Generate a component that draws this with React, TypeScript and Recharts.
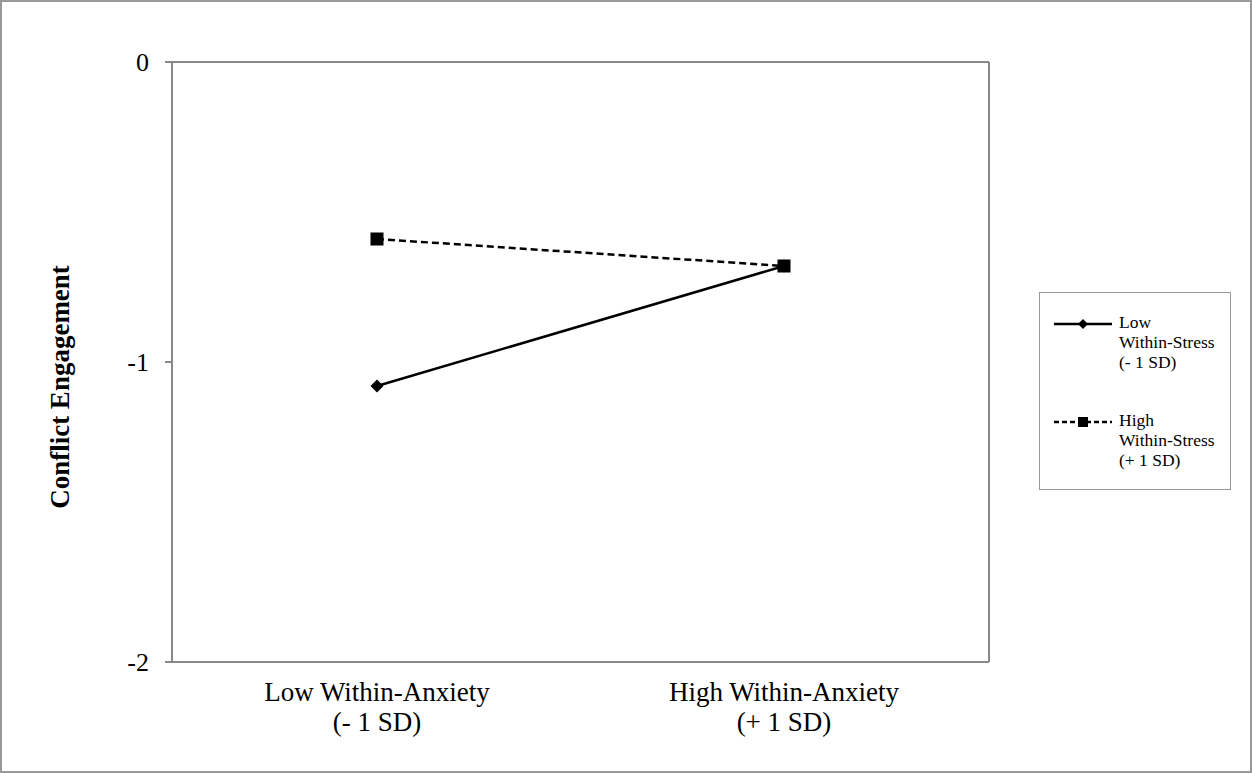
import { LineChart, Line, XAxis, YAxis } from "recharts";

const categories = ["Low Within-Anxiety|(- 1 SD)", "High Within-Anxiety|(+ 1 SD)"];
const lowStress = [-1.08, -0.68];
const highStress = [-0.59, -0.68];
const yTicks = [0, -1, -2];

const data = categories.map((c, i) => ({
    cat: c,
    low: lowStress[i],
    high: highStress[i],
}));

const serif = "'Liberation Serif', 'Times New Roman', serif";
const frame = { stroke: "#888", strokeWidth: 2 };

const Diamond = (props: any) => {
    const { cx, cy } = props;
    if (cx == null || cy == null) return null;
    const r = 6.5;
    return <path d={`M${cx},${cy - r}L${cx + r},${cy}L${cx},${cy + r}L${cx - r},${cy}Z`} fill="#000" />;
};

const Square = (props: any) => {
    const { cx, cy } = props;
    if (cx == null || cy == null) return null;
    return <rect x={cx - 6.5} y={cy - 6.5} width={13} height={13} fill="#000" />;
};

const XTick = (props: any) => {
    const { x, y, payload } = props;
    const lines = String(payload.value).split("|");
    return (
        <text x={x} y={y} textAnchor="middle" fontFamily={serif} fontSize={27} fill="#000">
            {lines.map((l, i) => (
                <tspan key={i} x={x} dy={i === 0 ? 31 : 30}>
                    {l}
                </tspan>
            ))}
        </text>
    );
};

const LegendBox = () => (
    <div
        style={{
            position: "absolute",
            left: 1037,
            top: 290,
            width: 192,
            height: 198,
            border: "1.5px solid #999",
            boxSizing: "border-box",
            fontFamily: serif,
            fontSize: 17.5,
            lineHeight: "20px",
            color: "#000",
            background: "#fff",
        }}
    >
        <svg width={60} height={12} style={{ position: "absolute", left: 14, top: 25 }}>
            <line x1={0} y1={6} x2={58} y2={6} stroke="#000" strokeWidth={2.5} />
            <path d="M29,1L34,6L29,11L24,6Z" fill="#000" />
        </svg>
        <div style={{ position: "absolute", left: 79, top: 19 }}>
            Low<br />Within-Stress<br />(- 1 SD)
        </div>
        <svg width={60} height={12} style={{ position: "absolute", left: 14, top: 123 }}>
            <line x1={0} y1={6} x2={58} y2={6} stroke="#000" strokeWidth={2.5} strokeDasharray="5 3" />
            <rect x={24} y={1} width={10} height={10} fill="#000" />
        </svg>
        <div style={{ position: "absolute", left: 79, top: 117 }}>
            High<br />Within-Stress<br />(+ 1 SD)
        </div>
    </div>
);

export default function App() {
    return (
        <div
            style={{
                position: "absolute",
                left: 0,
                top: 0,
                width: 1252,
                height: 773,
                border: "2px solid #999",
                boxSizing: "border-box",
                background: "#fff",
            }}
        >
            <LineChart
                width={1248}
                height={769}
                data={data}
                margin={{ top: 59, right: 260, bottom: 29, left: 70 }}
                style={{ position: "absolute", left: 0, top: 0 }}
            >
                <XAxis
                    dataKey="cat"
                    height={80}
                    axisLine={frame}
                    tickLine={false}
                    tick={<XTick />}
                    interval={0}
                    padding={{ left: 205, right: 205 }}
                />
                <XAxis
                    xAxisId="top"
                    dataKey="cat"
                    orientation="top"
                    height={1}
                    axisLine={frame}
                    tickLine={false}
                    tick={false}
                />
                <YAxis
                    type="number"
                    domain={[-2, 0]}
                    ticks={yTicks}
                    width={100}
                    axisLine={frame}
                    tickLine={frame}
                    tickSize={7}
                    tickMargin={16}
                    tick={{ fontFamily: serif, fontSize: 26, fill: "#000" }}
                />
                <YAxis
                    yAxisId="right"
                    orientation="right"
                    type="number"
                    domain={[-2, 0]}
                    width={1}
                    axisLine={frame}
                    tickLine={false}
                    tick={false}
                />
                <Line
                    xAxisId="top"
                    yAxisId="right"
                    dataKey="high"
                    stroke="none"
                    dot={false}
                    activeDot={false}
                    legendType="none"
                    isAnimationActive={false}
                />
                <Line
                    dataKey="low"
                    stroke="#000"
                    strokeWidth={2.5}
                    dot={<Diamond />}
                    activeDot={false}
                    isAnimationActive={false}
                />
                <Line
                    dataKey="high"
                    stroke="#000"
                    strokeWidth={2.5}
                    strokeDasharray="7 4"
                    dot={<Square />}
                    activeDot={false}
                    isAnimationActive={false}
                />
                <text
                    x={58}
                    y={385}
                    transform="rotate(-90, 58, 385)"
                    textAnchor="middle"
                    dominantBaseline="central"
                    fontFamily={serif}
                    fontSize={27}
                    fontWeight="bold"
                    fill="#000"
                >
                    Conflict Engagement
                </text>
            </LineChart>
            <LegendBox />
        </div>
    );
}
